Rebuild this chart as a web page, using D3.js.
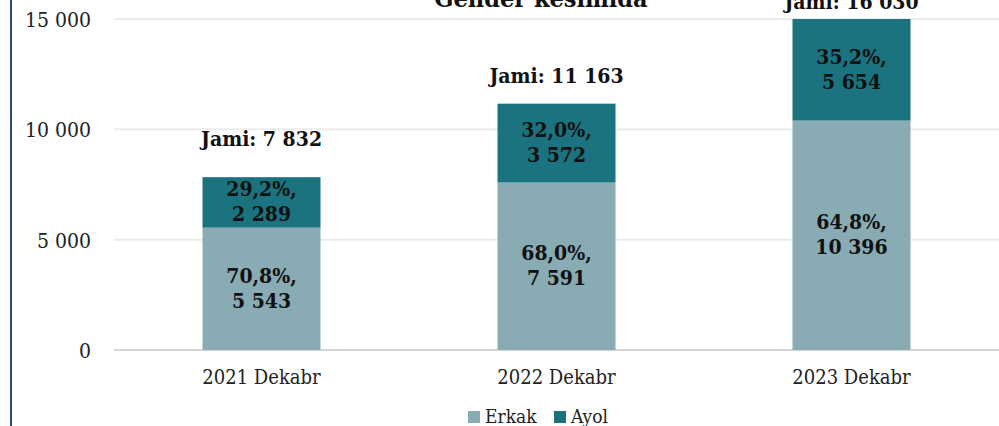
<!DOCTYPE html>
<html>
<head>
<meta charset="utf-8">
<script src="https://cdn.jsdelivr.net/npm/d3@7"></script>
<style>
  body { margin: 0; background: #fff; }
  svg text { font-family: "DejaVu Serif Condensed", "DejaVu Serif", serif; }
</style>
</head>
<body>
<div id="chart"></div>
<script>
// values
var categories = ["2021 Dekabr", "2022 Dekabr", "2023 Dekabr"];
var erkak = [5543, 7591, 10396];
var ayol = [2289, 3572, 5654];
var erkakPct = ["70,8%", "68,0%", "64,8%"];
var ayolPct = ["29,2%", "32,0%", "35,2%"];
var jami = [7832, 11163, 16030];
var yTicks = [0, 5000, 10000, 15000];
var seriesNames = ["Erkak", "Ayol"];

var W = 999, H = 426;
var margin = {left: 114, top: 19, right: 0, bottom: 76};
var width = W - margin.left - margin.right,
    height = H - margin.top - margin.bottom;

var colours = {Erkak: "#88abb4", Ayol: "#1b7380"};
// manual lift of the "Jami" labels (as placed in the original)
var jamiLift = [31, 21, 10];

var loc = d3.formatLocale({decimal: ",", thousands: " ", grouping: [3], currency: ["", ""]});
var fmt = loc.format(",d");

var svg = d3.select("#chart").append("svg")
    .attr("width", W)
    .attr("height", H);

// left frame line
svg.append("line")
    .attr("x1", 11).attr("x2", 11)
    .attr("y1", 0).attr("y2", H)
    .attr("stroke", "#2e4a7d")
    .attr("stroke-width", 2);

// title, cut off at the top
svg.append("text")
    .attr("x", 541).attr("y", 7)
    .attr("text-anchor", "middle")
    .attr("font-weight", "bold")
    .attr("font-size", 25)
    .attr("fill", "#111")
    .text("Gender kesimida");

var x = d3.scaleBand().domain(categories).range([0, width])
    .paddingInner(0.6).paddingOuter(0.3);
var y = d3.scaleLinear().domain([0, 15000]).range([height, 0]).clamp(true);

var g = svg.append("g")
    .attr("transform", "translate(" + margin.left + "," + margin.top + ")");

// grid
g.selectAll(".grid")
    .data(yTicks)
  .enter().append("line")
    .attr("x1", 0).attr("x2", width)
    .attr("y1", function(d) { return y(d); })
    .attr("y2", function(d) { return y(d); })
    .attr("stroke", function(d) { return d === 0 ? "#d6d6d6" : "#ececec"; })
    .attr("stroke-width", 2);

// y tick labels
g.selectAll(".ytick")
    .data(yTicks)
  .enter().append("text")
    .attr("x", -23)
    .attr("y", function(d) { return y(d) + 8; })
    .attr("text-anchor", "end")
    .attr("font-size", 21)
    .attr("fill", "#222")
    .text(function(d) { return fmt(d); });

// x labels
g.selectAll(".xtick")
    .data(categories)
  .enter().append("text")
    .attr("x", function(d) { return x(d) + x.bandwidth() / 2; })
    .attr("y", height + 34)
    .attr("text-anchor", "middle")
    .attr("font-size", 20)
    .attr("fill", "#222")
    .text(function(d) { return d; });

var rows = categories.map(function(c, i) {
  return {cat: c, Erkak: erkak[i], Ayol: ayol[i]};
});
var stacked = d3.stack().keys(seriesNames)(rows);
var pcts = {Erkak: erkakPct, Ayol: ayolPct};

stacked.forEach(function(layer) {
  var key = layer.key;
  g.selectAll(".bar-" + key)
      .data(layer)
    .enter().append("rect")
      .attr("x", function(d) { return x(d.data.cat); })
      .attr("y", function(d) { return y(d[1]); })
      .attr("width", x.bandwidth())
      .attr("height", function(d) { return y(d[0]) - y(d[1]); })
      .attr("fill", colours[key]);

  var lbl = g.selectAll(".lbl-" + key)
      .data(layer)
    .enter().append("text")
      .attr("text-anchor", "middle")
      .attr("font-weight", "bold")
      .attr("font-size", 21)
      .attr("fill", "#111")
      .attr("transform", function(d) {
        var cy = (y(d[0]) + y(d[1])) / 2;
        return "translate(" + (x(d.data.cat) + x.bandwidth() / 2) + "," + cy + ")";
      });
  lbl.append("tspan").attr("x", 0).attr("y", -6)
      .text(function(d, i) { return pcts[key][i] + ","; });
  lbl.append("tspan").attr("x", 0).attr("y", 19)
      .text(function(d) { return fmt(d.data[key]); });
});

// totals
g.selectAll(".jami")
    .data(jami)
  .enter().append("text")
    .attr("x", function(d, i) { return x(categories[i]) + x.bandwidth() / 2; })
    .attr("y", function(d, i) { return y(d) - jamiLift[i]; })
    .attr("text-anchor", "middle")
    .attr("font-weight", "bold")
    .attr("font-size", 21)
    .attr("fill", "#111")
    .text(function(d) { return "Jami: " + fmt(d); });

// legend
var legend = svg.append("g").attr("transform", "translate(468,411)");
var lx = [0, 86];
seriesNames.forEach(function(s, i) {
  legend.append("rect")
      .attr("x", lx[i]).attr("y", 0)
      .attr("width", 12).attr("height", 12)
      .attr("fill", colours[s]);
  legend.append("text")
      .attr("x", lx[i] + 17).attr("y", 12)
      .attr("font-size", 19)
      .attr("fill", "#222")
      .text(s);
});
</script>
</body>
</html>
